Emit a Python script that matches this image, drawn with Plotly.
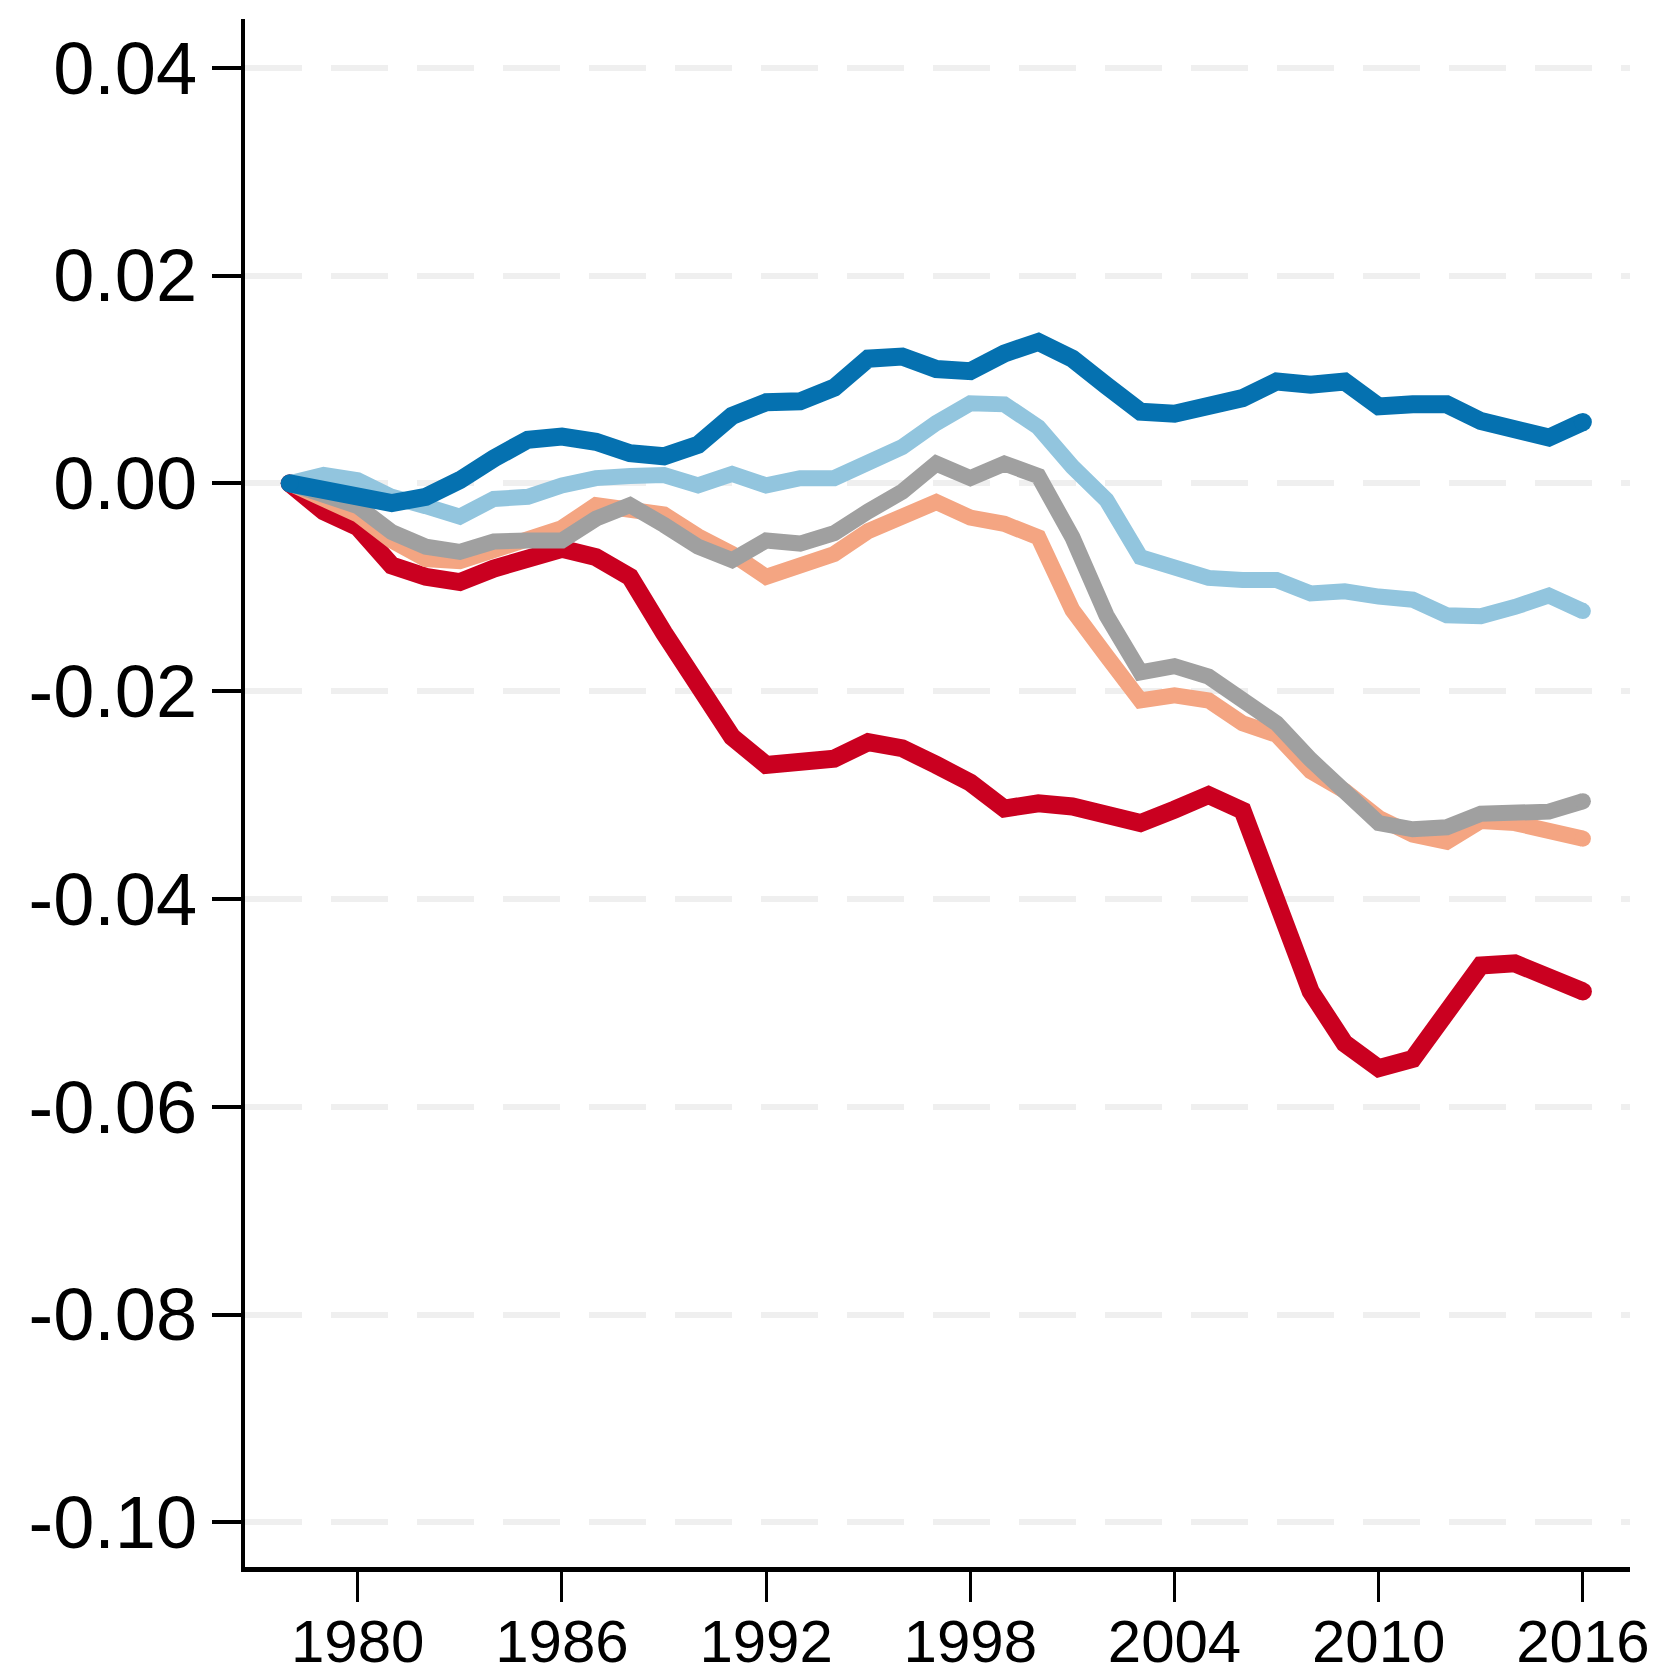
import plotly.graph_objects as go

years = list(range(1978, 2017))

dark_blue = [0.0, -0.0006, -0.0013, -0.0019, -0.0013, 0.0003, 0.0024, 0.0042, 0.0045, 0.0040,
             0.0029, 0.0026, 0.0037, 0.0065, 0.0078, 0.0079, 0.0092, 0.0120, 0.0122, 0.0110,
             0.0108, 0.0125, 0.0136, 0.0120, 0.0094, 0.0069, 0.0067, 0.0074, 0.0082, 0.0098,
             0.0095, 0.0098, 0.0074, 0.0076, 0.0076, 0.0060, 0.0054, 0.0044, 0.0059]

light_blue = [0.0, 0.0008, 0.0003, -0.0013, -0.0022, -0.0032, -0.0015, -0.0013, -0.0002, 0.0005,
              0.0007, 0.0008, -0.0002, 0.0009, -0.0002, 0.0005, 0.0005, 0.0018, 0.0035, 0.0058,
              0.0077, 0.0076, 0.0054, 0.0016, -0.0016, -0.0071, -0.0083, -0.0091, -0.0093, -0.0093,
              -0.0106, -0.0104, -0.0109, -0.0112, -0.0127, -0.0128, -0.0119, -0.0108, -0.0123]

gray = [0.0, -0.0013, -0.0022, -0.0047, -0.0061, -0.0066, -0.0056, -0.0055, -0.0055, -0.0034,
        -0.0021, -0.0040, -0.0061, -0.0074, -0.0055, -0.0058, -0.0048, -0.0027, -0.0008, 0.0019,
        0.0005, 0.0019, 0.0007, -0.0052, -0.0127, -0.0182, -0.0176, -0.0186, -0.0207, -0.0231,
        -0.0266, -0.0296, -0.0327, -0.0333, -0.0331, -0.0318, -0.0316, -0.0316, -0.0306]

orange = [0.0, -0.0016, -0.0030, -0.0055, -0.0073, -0.0075, -0.0064, -0.0053, -0.0043, -0.0021,
          -0.0026, -0.0030, -0.0051, -0.0068, -0.0090, -0.0080, -0.0068, -0.0046, -0.0030, -0.0018,
          -0.0033, -0.0039, -0.0052, -0.0122, -0.0166, -0.0209, -0.0204, -0.0209, -0.0231, -0.0242,
          -0.0277, -0.0296, -0.0322, -0.0338, -0.0345, -0.0325, -0.0327, -0.0334, -0.0342]

red = [0.0, -0.0027, -0.0042, -0.0079, -0.0090, -0.0095, -0.0082, -0.0072, -0.0063, -0.0071,
       -0.0090, -0.0144, -0.0197, -0.0244, -0.0271, -0.0270, -0.0265, -0.0249, -0.0255, -0.0271,
       -0.0288, -0.0313, -0.0308, -0.0311, -0.0318, -0.0327, -0.0314, -0.0300, -0.0315, -0.0405,
       -0.0489, -0.0539, -0.0563, -0.0554, -0.0511, -0.0464, -0.0462, -0.0476, -0.0489]

x_tickvals = [1980, 1986, 1992, 1998, 2004, 2010, 2016]
y_tickvals = [0.04, 0.02, 0.0, -0.02, -0.04, -0.06, -0.08, -0.10]
y_ticktext = ["0.04", "0.02", "0.00", "-0.02", "-0.04", "-0.06", "-0.08", "-0.10"]

series = [
    (red, "#ca0020", 18),
    (orange, "#f4a582", 16),
    (gray, "#a0a0a0", 16),
    (light_blue, "#92c5de", 16),
    (dark_blue, "#0571b0", 18),
]

fig = go.Figure()
for vals, color, w in series:
    fig.add_trace(go.Scatter(x=years, y=vals, mode="lines",
                             line=dict(color=color, width=w), showlegend=False,
                             hoverinfo="skip"))
    fig.add_trace(go.Scatter(x=[years[0], years[-1]], y=[vals[0], vals[-1]], mode="markers",
                             marker=dict(color=color, size=w, line=dict(width=0)),
                             showlegend=False, hoverinfo="skip"))

font_family = "Liberation Sans, Arial, Helvetica, sans-serif"

# the page body has an 8px default margin, so the figure is sized to fit the window
fig.update_layout(
    width=1657, height=1664,
    margin=dict(l=237, r=35, t=11, b=105, autoexpand=False),
    plot_bgcolor="white", paper_bgcolor="white",
    font=dict(family=font_family, color="black"),
    xaxis=dict(
        range=[1976.688, 2017.384], tickvals=x_tickvals,
        ticks="outside", ticklen=30, tickwidth=3, tickcolor="black",
        showline=True, linewidth=5, linecolor="black",
        showgrid=False, zeroline=False, automargin=False,
        tickfont=dict(size=60, family=font_family, color="black"),
        ticklabelstandoff=-12,
    ),
    yaxis=dict(
        range=[-0.10430, 0.04469], tickvals=y_tickvals, ticktext=y_ticktext,
        ticks="outside", ticklen=29, tickwidth=4, tickcolor="black",
        showline=True, linewidth=4, linecolor="black",
        showgrid=True, gridcolor="#efefef", gridwidth=6, griddash="57px,29px",
        zeroline=False, automargin=False,
        tickfont=dict(size=74, family=font_family, color="black"),
        ticklabelstandoff=0,
    ),
)

fig.write_html("out.html")
